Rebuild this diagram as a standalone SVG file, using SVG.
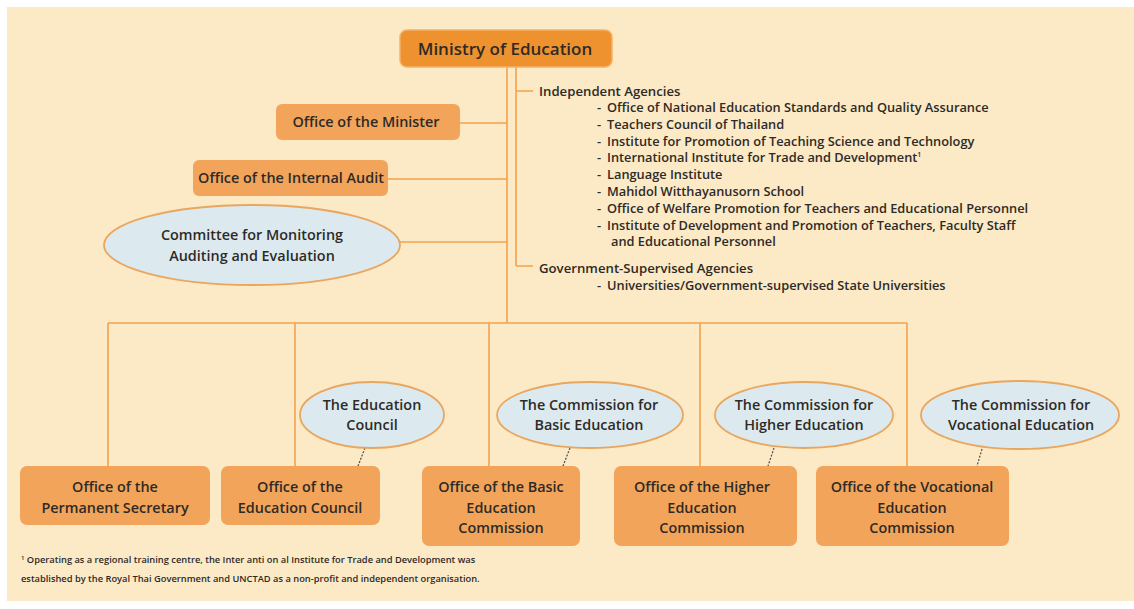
<svg xmlns="http://www.w3.org/2000/svg" width="1134" height="609" viewBox="0 0 1134 609">
<style>
text{font-family:"Open Sans","Noto Sans","Liberation Sans",sans-serif;fill:#2e2a26;font-weight:600}
.box{fill:#F2A55A}
.min{fill:#EE922F;stroke:#F5B16A;stroke-width:1.5}
.ell{fill:#DCEAF0;stroke:#E9A65E;stroke-width:1.8}
.ln{stroke:#F4A24E;stroke-width:1.6;fill:none}
.dash{stroke:#5a5350;stroke-width:1.3;stroke-dasharray:2 1.5;fill:none}
.c{text-anchor:middle}
.t14{font-size:14.4px}
.hd{font-size:13.2px}
.sm{font-size:12.8px}
.fn{font-size:9.3px}
</style>
<rect x="0" y="0" width="1134" height="609" fill="#ffffff"/>
<rect x="7" y="7" width="1127" height="594" fill="#FCE9C6"/>

<g id="connectors">
<path class="ln" d="M507 66V323M516 66V266M516 91H533M516 266H533"/>
<path class="ln" d="M460 123H507M388 179H507M400 242H507"/>
<path class="ln" d="M108 323H907M108 323V466M295 323V466M489 323V466M700 323V466M907 323V466"/>
<path class="dash" d="M365 448L358 466M570 448L563 466M774 448L768 466M982 449L977 466"/>
</g>

<g id="ministry">
<rect class="min" x="400" y="30" width="212" height="37" rx="7"/>
<text class="c" x="505" y="55" font-size="17">Ministry of Education</text>
</g>
<g id="office-minister">
<rect class="box" x="276" y="104" width="184" height="36" rx="6"/>
<text class="c t14" x="366" y="127">Office of the Minister</text>
</g>
<g id="office-audit">
<rect class="box" x="193" y="160" width="195" height="36" rx="6"/>
<text class="c t14" x="291" y="183">Office of the Internal Audit</text>
</g>
<g id="committee">
<ellipse class="ell" cx="252" cy="245" rx="148" ry="40"/>
<text class="c t14" x="252" y="240">Committee for Monitoring</text>
<text class="c t14" x="252" y="261">Auditing and Evaluation</text>
</g>

<g id="independent-agencies">
<text class="hd" x="539" y="96">Independent Agencies</text>
<g class="sm">
<text x="597" y="112">-</text><text x="607" y="112">Office of National Education Standards and Quality Assurance</text>
<text x="597" y="129">-</text><text x="607" y="129">Teachers Council of Thailand</text>
<text x="597" y="146">-</text><text x="607" y="146">Institute for Promotion of Teaching Science and Technology</text>
<text x="597" y="162">-</text><text x="607" y="162">International Institute for Trade and Development<tspan font-size="7" dy="-5">1</tspan></text>
<text x="597" y="179">-</text><text x="607" y="179">Language Institute</text>
<text x="597" y="196">-</text><text x="607" y="196">Mahidol Witthayanusorn School</text>
<text x="597" y="213">-</text><text x="607" y="213">Office of Welfare Promotion for Teachers and Educational Personnel</text>
<text x="597" y="230">-</text><text x="607" y="230">Institute of Development and Promotion of Teachers, Faculty Staff</text>
<text x="611" y="246">and Educational Personnel</text>
</g>
</g>
<g id="gov-supervised">
<text class="hd" x="539" y="273">Government-Supervised Agencies</text>
<text class="sm" x="597" y="290">-</text><text class="sm" x="607" y="290">Universities/Government-supervised State Universities</text>
</g>

<g id="education-council">
<ellipse class="ell" cx="372" cy="415" rx="72" ry="33"/>
<text class="c t14" x="372" y="410">The Education</text>
<text class="c t14" x="372" y="430">Council</text>
</g>
<g id="commission-basic">
<ellipse class="ell" cx="590" cy="415" rx="93" ry="33"/>
<text class="c t14" x="589" y="410">The Commission for</text>
<text class="c t14" x="589" y="430">Basic Education</text>
</g>
<g id="commission-higher">
<ellipse class="ell" cx="804" cy="415" rx="89" ry="33"/>
<text class="c t14" x="804" y="410">The Commission for</text>
<text class="c t14" x="804" y="430">Higher Education</text>
</g>
<g id="commission-vocational">
<ellipse class="ell" cx="1020" cy="415" rx="99" ry="34"/>
<text class="c t14" x="1021" y="410">The Commission for</text>
<text class="c t14" x="1021" y="430">Vocational Education</text>
</g>

<g id="office-permanent">
<rect class="box" x="20" y="466" width="190" height="59" rx="7"/>
<text class="c t14" x="115" y="492">Office of the</text>
<text class="c t14" x="115" y="513">Permanent Secretary</text>
</g>
<g id="office-edu-council">
<rect class="box" x="221" y="466" width="159" height="59" rx="7"/>
<text class="c t14" x="300" y="492">Office of the</text>
<text class="c t14" x="300" y="513">Education Council</text>
</g>
<g id="office-basic">
<rect class="box" x="422" y="466" width="158" height="80" rx="7"/>
<text class="c t14" x="501" y="492">Office of the Basic</text>
<text class="c t14" x="501" y="513">Education</text>
<text class="c t14" x="501" y="533">Commission</text>
</g>
<g id="office-higher">
<rect class="box" x="614" y="466" width="183" height="80" rx="7"/>
<text class="c t14" x="702" y="492">Office of the Higher</text>
<text class="c t14" x="702" y="513">Education</text>
<text class="c t14" x="702" y="533">Commission</text>
</g>
<g id="office-vocational">
<rect class="box" x="816" y="466" width="193" height="80" rx="7"/>
<text class="c t14" x="912" y="492">Office of the Vocational</text>
<text class="c t14" x="912" y="513">Education</text>
<text class="c t14" x="912" y="533">Commission</text>
</g>

<g id="footnote">
<text class="fn" x="21" y="563"><tspan font-size="6" dy="-3">1</tspan><tspan dy="3"> Operating as a regional training centre, the Inter anti on al Institute for Trade and Development was</tspan></text>
<text class="fn" x="21" y="582">established by the Royal Thai Government and UNCTAD as a non-profit and independent organisation.</text>
</g>
</svg>
